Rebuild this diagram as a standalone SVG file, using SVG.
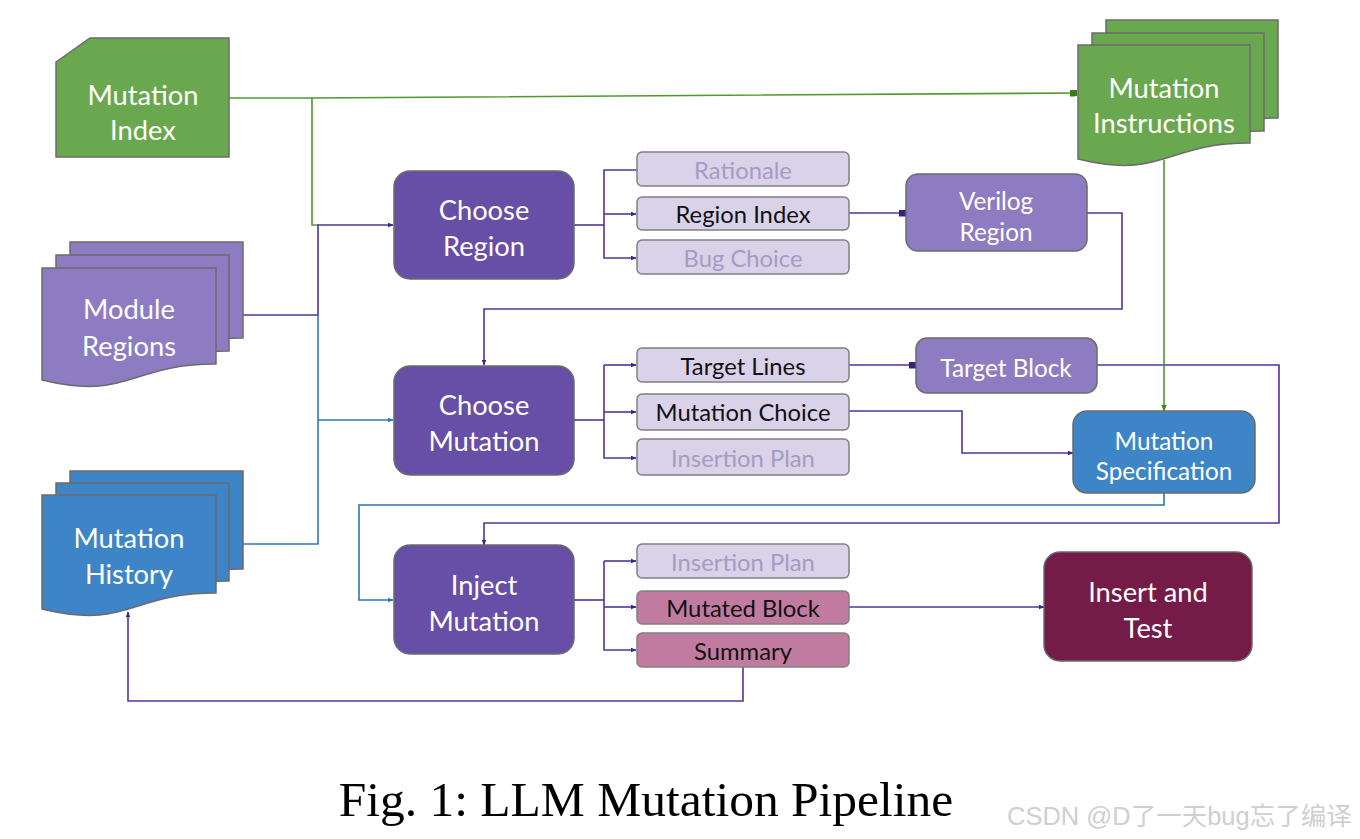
<svg xmlns="http://www.w3.org/2000/svg" width="1360" height="839" viewBox="0 0 1360 839">
<defs>
<style>
.lbl{font-family:Lato,"Open Sans","DejaVu Sans",sans-serif;text-anchor:middle;dominant-baseline:central}
.big{font-size:27.3px;fill:#ffffff}
.mid{font-size:24.3px;fill:#ffffff}
.out{font-size:23.8px}
.dim{fill:#a59cc2}
.blk{fill:#111111}
.node{stroke:#6b6b6b;stroke-width:1.5}
.proc{fill:#674ea7}
.outbox{fill:#d9d2e9;stroke:#808080;stroke-width:1.5}
.pink{fill:#c27ba0;stroke:#808080;stroke-width:1.5}
.pl{fill:none;stroke:#52349a;stroke-width:1.6}
.bl{fill:none;stroke:#2e75b6;stroke-width:1.6}
.gl{fill:none;stroke:#4f9a2e;stroke-width:1.6}
</style>
<marker id="ap" viewBox="0 0 10 10" refX="9" refY="5" markerWidth="6" markerHeight="6" markerUnits="userSpaceOnUse" orient="auto"><path d="M0,1 L10,5 L0,9 Z" fill="#3f2386"/></marker>
<marker id="ab" viewBox="0 0 10 10" refX="9" refY="5" markerWidth="6" markerHeight="6" markerUnits="userSpaceOnUse" orient="auto"><path d="M0,1 L10,5 L0,9 Z" fill="#2e75b6"/></marker>
<marker id="ag" viewBox="0 0 10 10" refX="9" refY="5" markerWidth="7" markerHeight="7" markerUnits="userSpaceOnUse" orient="auto"><path d="M0,1 L10,5 L0,9 Z" fill="#3f8a20"/></marker>
<marker id="sp" viewBox="0 0 10 10" refX="10" refY="5" markerWidth="7" markerHeight="7" markerUnits="userSpaceOnUse" orient="auto"><rect x="0" y="0" width="10" height="10" fill="#3a1f80"/></marker>
<marker id="sg" viewBox="0 0 10 10" refX="10" refY="5" markerWidth="7" markerHeight="7" markerUnits="userSpaceOnUse" orient="auto"><rect x="0" y="0" width="10" height="10" fill="#3a7a1c"/></marker>
</defs>
<rect width="1360" height="839" fill="#ffffff"/>

<g id="connectors">
<polyline class="gl" points="229,98 312,98 1077,93" marker-end="url(#sg)"/>
<polyline class="gl" points="312,98 312,225 318,225"/>
<polyline class="pl" points="243,315 318,315 318,225 393,225" marker-end="url(#ap)"/>
<polyline class="bl" points="243,544 318,544 318,315"/>
<polyline class="bl" points="318,420 393,420" marker-end="url(#ab)"/>
<polyline class="pl" points="574,225 604,225"/>
<polyline class="pl" points="636,170 604,170 604,258 636,258" marker-start="url(#ap)" marker-end="url(#ap)"/>
<polyline class="pl" points="604,214 636,214" marker-end="url(#ap)"/>
<polyline class="pl" points="849,213 906,213" marker-end="url(#sp)"/>
<polyline class="pl" points="1087,213 1122,213 1122,309 484,309 484,365" marker-end="url(#ap)"/>
<polyline class="pl" points="574,420 604,420"/>
<polyline class="pl" points="604,365 604,458 636,458" marker-end="url(#ap)"/>
<polyline class="pl" points="604,365 636,365" marker-end="url(#ap)"/>
<polyline class="pl" points="604,412 636,412" marker-end="url(#ap)"/>
<polyline class="pl" points="849,365 916,365" marker-end="url(#sp)"/>
<polyline class="pl" points="1097,365 1279,365 1279,523 484,523 484,545" marker-end="url(#ap)"/>
<polyline class="pl" points="849,411 962,411 962,453 1073,453" marker-end="url(#ap)"/>
<polyline class="gl" points="1164,160 1164,411" marker-end="url(#ag)"/>
<polyline class="bl" points="1164,493 1164,505 359,505 359,600 393,600" marker-end="url(#ab)"/>
<polyline class="pl" points="574,600 604,600"/>
<polyline class="pl" points="604,561 604,650 636,650" marker-end="url(#ap)"/>
<polyline class="pl" points="604,561 636,561" marker-end="url(#ap)"/>
<polyline class="pl" points="604,607 636,607" marker-end="url(#ap)"/>
<polyline class="pl" points="849,607 1044,607" marker-end="url(#ap)"/>
<polyline class="pl" points="743,667 743,701 128,701 128,612" marker-end="url(#ap)"/>
</g>

<g id="mutation-index">
<path class="node" d="M56,62 L90,38 H229 V157 H56 Z" fill="#6aa84f"/>
<text class="lbl big" x="143" y="94">Mutation</text>
<text class="lbl big" x="143" y="129">Index</text>
</g>

<g id="mutation-instructions">
<path class="node" fill="#6aa84f" d="M1106,20 H1278 V118 C1192,118 1192,155 1106,140 Z"/>
<path class="node" fill="#6aa84f" d="M1092,33 H1264 V131 C1178,131 1178,168 1092,153 Z"/>
<path class="node" fill="#6aa84f" d="M1078,45 H1250 V143 C1164,143 1164,180 1078,159 Z"/>
<text class="lbl big" x="1164" y="87">Mutation</text>
<text class="lbl big" x="1164" y="122">Instructions</text>
</g>

<g id="module-regions">
<path class="node" fill="#8e7cc3" d="M70,242 H243 V338 C156,338 156,375 70,354 Z"/>
<path class="node" fill="#8e7cc3" d="M56,255 H229 V351 C142,351 142,388 56,367 Z"/>
<path class="node" fill="#8e7cc3" d="M42,268 H216 V364 C129,364 129,401 42,380 Z"/>
<text class="lbl big" x="129" y="308">Module</text>
<text class="lbl big" x="129" y="345">Regions</text>
</g>

<g id="mutation-history">
<path class="node" fill="#3d85c6" d="M70,471 H243 V569 C156,569 156,606 70,585 Z"/>
<path class="node" fill="#3d85c6" d="M56,483 H229 V581 C142,581 142,618 56,597 Z"/>
<path class="node" fill="#3d85c6" d="M42,495 H216 V593 C129,593 129,630 42,609 Z"/>
<text class="lbl big" x="129" y="537">Mutation</text>
<text class="lbl big" x="129" y="573">History</text>
</g>

<g id="choose-region">
<rect class="node proc" x="394" y="171" width="180" height="108" rx="16"/>
<text class="lbl big" x="484" y="209">Choose</text>
<text class="lbl big" x="484" y="245">Region</text>
</g>

<g id="rationale">
<rect class="outbox" x="637" y="152" width="212" height="34" rx="5"/>
<text class="lbl out dim" x="743" y="170">Rationale</text>
</g>
<g id="region-index">
<rect class="outbox" x="637" y="197" width="212" height="33" rx="5"/>
<text class="lbl out blk" x="743" y="214">Region Index</text>
</g>
<g id="bug-choice">
<rect class="outbox" x="637" y="240" width="212" height="34" rx="5"/>
<text class="lbl out dim" x="743" y="258">Bug Choice</text>
</g>

<g id="verilog-region">
<rect class="node" fill="#8e7cc3" x="906" y="174" width="181" height="77" rx="12"/>
<text class="lbl mid" x="996" y="200">Verilog</text>
<text class="lbl mid" x="996" y="231">Region</text>
</g>

<g id="choose-mutation">
<rect class="node proc" x="394" y="366" width="180" height="109" rx="16"/>
<text class="lbl big" x="484" y="404">Choose</text>
<text class="lbl big" x="484" y="440">Mutation</text>
</g>

<g id="target-lines">
<rect class="outbox" x="637" y="348" width="212" height="34" rx="5"/>
<text class="lbl out blk" x="743" y="366">Target Lines</text>
</g>
<g id="mutation-choice">
<rect class="outbox" x="637" y="394" width="212" height="36" rx="5"/>
<text class="lbl out blk" x="743" y="412">Mutation Choice</text>
</g>
<g id="insertion-plan-1">
<rect class="outbox" x="637" y="439" width="212" height="36" rx="5"/>
<text class="lbl out dim" x="743" y="458">Insertion Plan</text>
</g>

<g id="target-block">
<rect class="node" fill="#8e7cc3" x="916" y="338" width="181" height="55" rx="11"/>
<text class="lbl mid" x="1006" y="367">Target Block</text>
</g>

<g id="mutation-specification">
<rect class="node" fill="#3d85c6" x="1073" y="411" width="182" height="82" rx="14"/>
<text class="lbl mid" x="1164" y="440">Mutation</text>
<text class="lbl mid" x="1164" y="470">Specification</text>
</g>

<g id="inject-mutation">
<rect class="node proc" x="394" y="545" width="180" height="109" rx="16"/>
<text class="lbl big" x="484" y="584">Inject</text>
<text class="lbl big" x="484" y="620">Mutation</text>
</g>

<g id="insertion-plan-2">
<rect class="outbox" x="637" y="544" width="212" height="34" rx="5"/>
<text class="lbl out dim" x="743" y="562">Insertion Plan</text>
</g>
<g id="mutated-block">
<rect class="pink" x="637" y="591" width="212" height="33" rx="5"/>
<text class="lbl out blk" x="743" y="608">Mutated Block</text>
</g>
<g id="summary">
<rect class="pink" x="637" y="633" width="212" height="34" rx="5"/>
<text class="lbl out blk" x="743" y="651">Summary</text>
</g>

<g id="insert-and-test">
<rect class="node" fill="#741b47" x="1044" y="552" width="208" height="109" rx="16"/>
<text class="lbl big" x="1148" y="591">Insert and</text>
<text class="lbl big" x="1148" y="627">Test</text>
</g>

<text x="646" y="816" font-family="'Liberation Serif','Times New Roman',serif" font-size="49.5" text-anchor="middle" fill="#000000">Fig. 1: LLM Mutation Pipeline</text>
<text x="1007" y="825" font-family="'Liberation Sans','Noto Sans CJK SC',sans-serif" font-size="25.5" fill="#cfcfcf">CSDN @D了一天bug忘了编译</text>
</svg>
